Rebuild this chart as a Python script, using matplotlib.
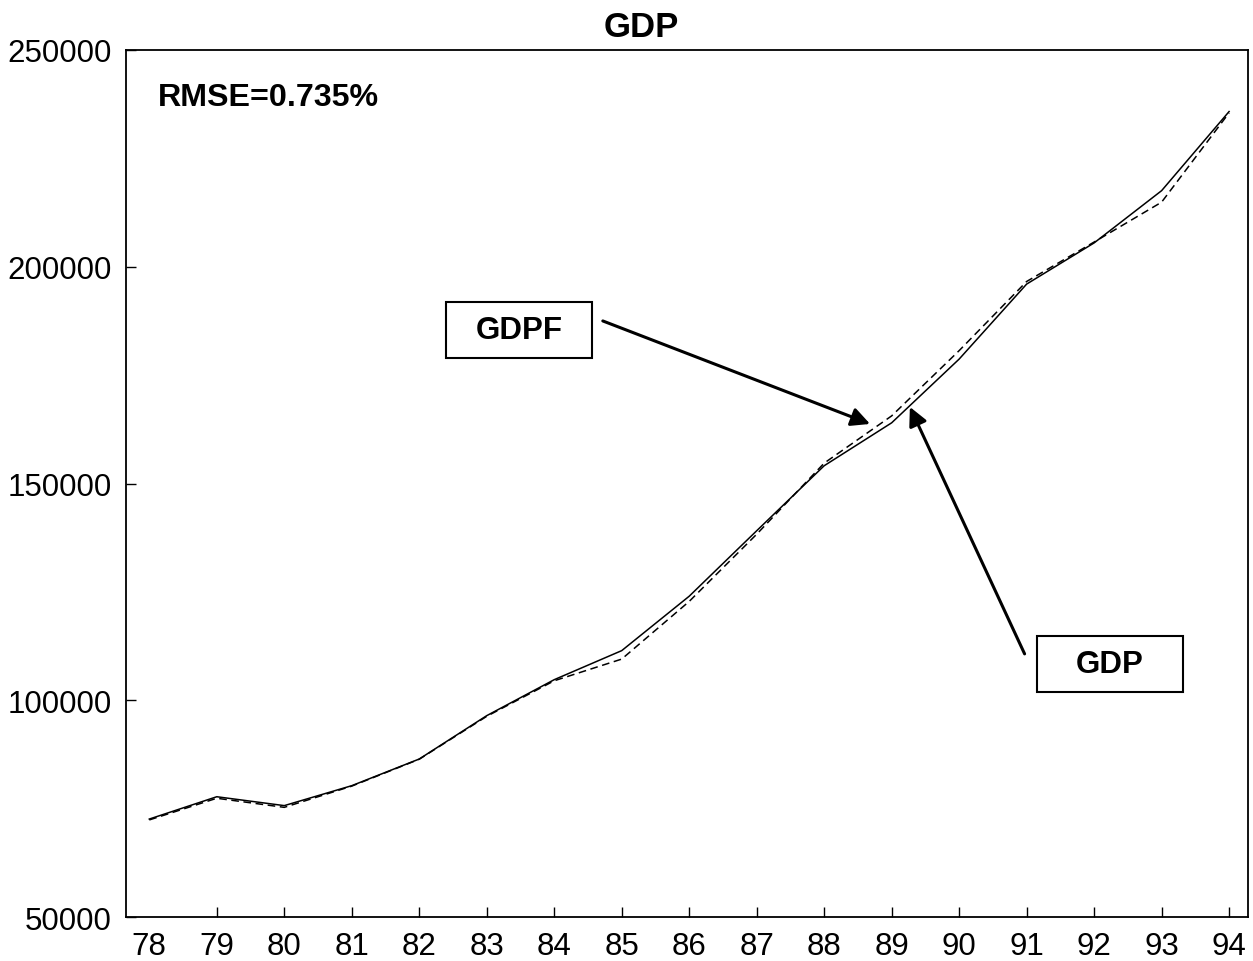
import matplotlib
matplotlib.use("Agg")
import matplotlib.pyplot as plt
from matplotlib.patches import Rectangle

# data (years 1978-1994, two-digit labels)
years = list(range(78, 95))
gdp = [72600, 77750, 75700, 80300, 86450, 96450, 104750, 111450, 124000,
       139100, 154100, 164000, 178700, 196000, 205500, 217550, 235800]
gdpf = [72400, 77400, 75300, 80200, 86400, 96300, 104500, 109500, 122800,
        138300, 154700, 165600, 180650, 196600, 205700, 214900, 235500]
yticks = [50000, 100000, 150000, 200000, 250000]

plt.rcParams['font.family'] = ['Liberation Sans', 'DejaVu Sans']

fig = plt.figure(figsize=(12.53, 9.62), dpi=100)
ax = fig.add_axes([0.1003, 0.0457, 0.8957, 0.9013])

ax.plot(years, gdp, color='black', lw=1.1, ls='-')
ax.plot(years, gdpf, color='black', lw=1.1, ls=(0, (5, 3)))

ax.set_xlim(77.65, 94.28)
ax.set_ylim(50000, 250000)
ax.set_xticks(years)
ax.set_xticklabels([str(y) for y in years])
ax.set_yticks(yticks)
ax.set_yticklabels([str(v) for v in yticks])
ax.tick_params(direction='in', length=7, width=1, labelsize=22.5, colors='black')
ax.tick_params(axis='x', pad=10)
ax.tick_params(axis='y', pad=10)
ax.xaxis.get_major_ticks()[0].tick1line.set_visible(False)
for s in ax.spines.values():
    s.set_linewidth(1.3)

fig.text(0.5116, 0.9619, 'GDP', ha='center', va='baseline',
         fontsize=25, fontweight='bold')
ax.text(0.029, 0.9366, 'RMSE=0.735%', transform=ax.transAxes,
        ha='left', va='baseline', fontsize=23.2, fontweight='bold')

# labelled boxes with arrows
ax.add_patch(Rectangle((0.2854, 0.6448), 0.1301, 0.0645, transform=ax.transAxes,
                       fill=False, lw=1.5, ec='black'))
ax.text(0.2854 + 0.1301 / 2, 0.6448 + 0.0645 / 2, 'GDPF', transform=ax.transAxes,
        ha='center', va='center', fontsize=22.5, fontweight='bold')
ax.add_patch(Rectangle((0.8117, 0.2599), 0.1301, 0.0646, transform=ax.transAxes,
                       fill=False, lw=1.5, ec='black'))
ax.text(0.8117 + 0.1301 / 2, 0.2599 + 0.0646 / 2, 'GDP', transform=ax.transAxes,
        ha='center', va='center', fontsize=22.5, fontweight='bold')

arrow = dict(arrowstyle='-|>', lw=2.2, color='black', mutation_scale=28,
             shrinkA=0, shrinkB=0)
ax.annotate('', xy=(88.68, 163740), xytext=(84.72, 187500), arrowprops=arrow)
ax.annotate('', xy=(89.27, 167660), xytext=(90.97, 110700), arrowprops=arrow)

fig.savefig('out.png', dpi=100)
